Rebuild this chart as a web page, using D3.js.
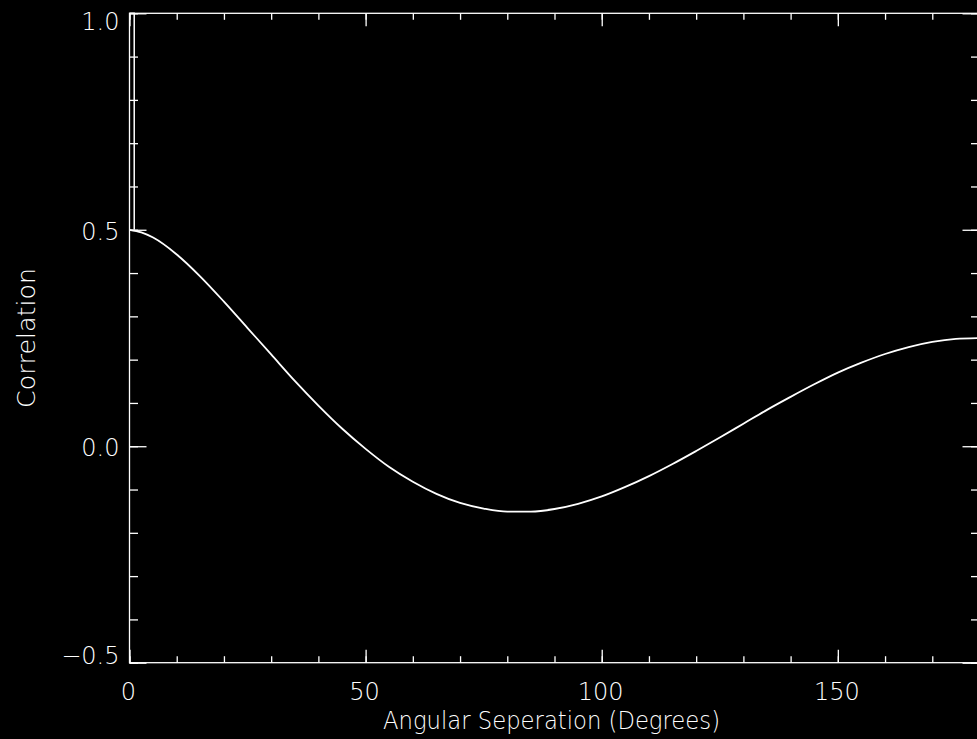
<!DOCTYPE html>
<html>
<head>
<meta charset="utf-8">
<script src="https://cdn.jsdelivr.net/npm/d3@7.9.0/dist/d3.min.js"></script>
<style>
  html, body { margin: 0; padding: 0; background: #000; overflow: hidden; }
  svg { display: block; }
  text { fill: #fff; font-family: "DejaVu Sans", sans-serif; font-weight: 200; }
</style>
</head>
<body>
<svg id="chart" width="977" height="739"></svg>
<script>
// Angular separation (deg) and correlation
const sepDeg = [0, 2.5, 5, 10, 15, 20, 25, 30, 35, 40, 45, 50, 55, 60, 65, 70, 75, 80, 85, 90,
  95, 100, 105, 110, 115, 120, 125, 130, 135, 140, 145, 150, 155, 160, 165, 170, 175, 180];
const correlation = [0.500, 0.494, 0.482, 0.443, 0.392, 0.334, 0.273, 0.212, 0.151, 0.094, 0.041,
  -0.006, -0.048, -0.082, -0.110, -0.131, -0.144, -0.151, -0.151, -0.145,
  -0.133, -0.116, -0.094, -0.069, -0.041, -0.011, 0.020, 0.052, 0.084, 0.114, 0.143,
  0.170, 0.193, 0.213, 0.229, 0.241, 0.248, 0.250];

// zero-separation spike (auto-correlation)
const spikeDeg = [0, 1, 1];
const spikeCorr = [1.0, 1.0, 0.5];

const xTickValues = [0, 50, 100, 150];
const xTickLabels = ['0', '50', '100', '150'];
const yTickValues = [-0.5, 0.0, 0.5, 1.0];
const yTickLabels = ['\u22120.5', '0.0', '0.5', '1.0'];

const svg = d3.select('#chart');
const plotLeft = 129.5, plotRight = 979.5, plotTop = 13.3, plotBottom = 662.7;

const x = d3.scaleLinear().domain([0, 180]).range([plotLeft, plotRight]);
const y = d3.scaleLinear().domain([-0.5, 1.0]).range([plotBottom, plotTop]);

const lineColor = '#fff';

// frame
svg.append('rect')
  .attr('x', plotLeft).attr('y', plotTop)
  .attr('width', plotRight - plotLeft).attr('height', plotBottom - plotTop)
  .attr('fill', 'none').attr('stroke', lineColor).attr('stroke-width', 1.3);

const xMinor = d3.range(0, 181, 10);
const yMinor = d3.range(-5, 11, 1).map(d => d / 10);

// ticks drawn inward on all four sides
function drawAxis(axis, pos, values, size) {
  const g = svg.append('g')
    .attr('transform', pos)
    .call(axis.tickValues(values).tickSize(size).tickSizeOuter(0).tickFormat(''));
  g.select('.domain').remove();
  g.selectAll('line').attr('stroke', lineColor).attr('stroke-width', 1.3);
  return g;
}

drawAxis(d3.axisBottom(x), `translate(0,${plotBottom})`, xMinor, -6.5);
drawAxis(d3.axisBottom(x), `translate(0,${plotBottom})`, xTickValues, -13);
drawAxis(d3.axisTop(x), `translate(0,${plotTop})`, xMinor, -6.5);
drawAxis(d3.axisTop(x), `translate(0,${plotTop})`, xTickValues, -13);
drawAxis(d3.axisLeft(y), `translate(${plotLeft},0)`, yMinor, -8.5);
drawAxis(d3.axisLeft(y), `translate(${plotLeft},0)`, yTickValues, -17);
drawAxis(d3.axisRight(y), `translate(${plotRight},0)`, yMinor, -8.5);
drawAxis(d3.axisRight(y), `translate(${plotRight},0)`, yTickValues, -17);

// tick labels
svg.append('g').selectAll('text')
  .data(xTickValues)
  .join('text')
  .attr('x', d => x(d) - 1)
  .attr('y', 700)
  .attr('text-anchor', 'middle')
  .attr('font-size', 24)
  .text((d, i) => xTickLabels[i]);

// end labels are kept inside the axis range
const yLabelShift = [1.5, 10, 10, 17];
svg.append('g').selectAll('text')
  .data(yTickValues)
  .join('text')
  .attr('x', 119.5)
  .attr('y', (d, i) => y(d) + yLabelShift[i])
  .attr('text-anchor', 'end')
  .attr('font-size', 24)
  .text((d, i) => yTickLabels[i]);

// axis titles
svg.append('text')
  .attr('x', 551.5).attr('y', 729)
  .attr('text-anchor', 'middle')
  .attr('font-size', 24)
  .attr('textLength', 337).attr('lengthAdjust', 'spacingAndGlyphs')
  .text('Angular Seperation (Degrees)');

svg.append('text')
  .attr('transform', 'translate(35,338) rotate(-90)')
  .attr('text-anchor', 'middle')
  .attr('font-size', 24)
  .attr('textLength', 140).attr('lengthAdjust', 'spacingAndGlyphs')
  .text('Correlation');

// curve
const line = d3.line()
  .x(d => x(d[0]))
  .y(d => y(d[1]))
  .curve(d3.curveMonotoneX);

svg.append('path')
  .datum(sepDeg.map((s, i) => [s, correlation[i]]))
  .attr('d', line)
  .attr('fill', 'none')
  .attr('stroke', lineColor)
  .attr('stroke-width', 1.8);

svg.append('path')
  .datum(spikeDeg.map((s, i) => [s, spikeCorr[i]]))
  .attr('d', d3.line().x(d => x(d[0])).y(d => y(d[1])))
  .attr('fill', 'none')
  .attr('stroke', lineColor)
  .attr('stroke-width', 1.5);
</script>
</body>
</html>
